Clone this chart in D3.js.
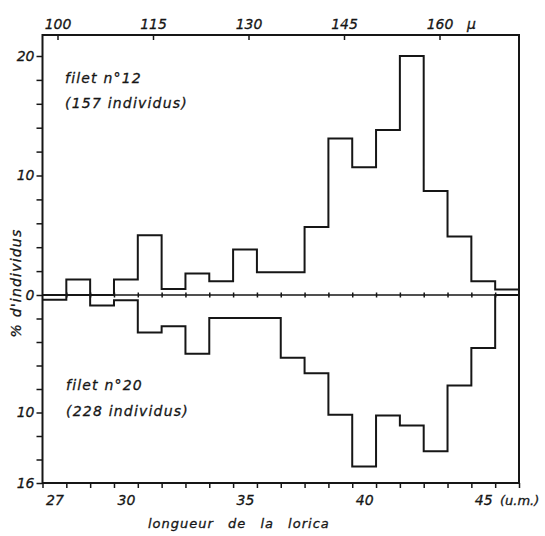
<!DOCTYPE html>
<html>
<head>
<meta charset="utf-8">
<script src="https://cdn.jsdelivr.net/npm/d3@7"></script>
<style>
  body { margin: 0; background: #fff; }
  svg text { font-family: "DejaVu Sans", sans-serif; font-style: italic; fill: #161616; stroke: #161616; stroke-width: 0.3px; }
</style>
</head>
<body>
<div id="chart"></div>
<script>
// length classes (u.m.), one bin per unit
const lengthUM = [27, 28, 29, 30, 31, 32, 33, 34, 35, 36, 37, 38, 39, 40, 41, 42, 43, 44, 45, 46];
// % of individuals, filet n°12 (drawn upward)
const filet12 = [0, 1.3, 0, 1.3, 5.0, 0.5, 1.8, 1.15, 3.8, 1.9, 1.9, 5.7, 13.1, 10.7, 13.8, 20.0, 8.7, 4.9, 1.15, 0.45];
// % of individuals, filet n°20 (drawn downward)
const filet20 = [0.4, 0, 0.9, 0.45, 3.2, 2.65, 5.0, 1.95, 1.95, 1.95, 5.35, 6.65, 10.2, 14.6, 10.25, 11.1, 13.3, 7.7, 4.5, 0];

const bottomLabels = [27, 30, 35, 40, 45];
const topLabels = [100, 115, 130, 145, 160];
const upperLabels = [0, 10, 20];
const lowerLabels = [10, 16];

const width = 545;
const height = 536;
const frameTop = 35;
const frameBottom = 483;
const ink = "#161616";

const svg = d3.select("#chart")
  .append("svg")
  .attr("width", width)
  .attr("height", height);

const x = d3.scaleLinear()
  .domain([lengthUM[0] - 0.5, lengthUM[lengthUM.length - 1] + 0.5])
  .range([42.5, 519]);

// top scale in microns
const mu = d3.scaleLinear().domain([100, 160]).range([57.5, 439.5]);

const yUp = d3.scaleLinear().domain([0, 20]).range([295, 56]);
const yDown = d3.scaleLinear().domain([0, 16]).range([295, frameBottom]);

const edges = lengthUM.map(d => d - 0.5).concat([lengthUM[lengthUM.length - 1] + 0.5]);

function styleAxis(g, size) {
  g.select(".domain").remove();
  g.selectAll(".tick line").attr("stroke", ink).attr("stroke-width", 1.5);
  g.selectAll(".tick text")
    .attr("fill", ink)
    .style("font-size", size + "px")
    .style("font-family", "DejaVu Sans")
    .style("font-style", "italic");
}

// frame
svg.append("rect")
  .attr("x", x.range()[0])
  .attr("y", frameTop)
  .attr("width", x.range()[1] - x.range()[0])
  .attr("height", frameBottom - frameTop)
  .attr("fill", "none")
  .attr("stroke", ink)
  .attr("stroke-width", 2);

// left axis, upper part
svg.append("g")
  .attr("transform", `translate(${x.range()[0]},0)`)
  .call(d3.axisLeft(yUp)
    .tickValues(d3.range(0, 21, 2))
    .tickSize(6)
    .tickPadding(2)
    .tickFormat(d => upperLabels.includes(d) ? d : ""))
  .call(g => styleAxis(g, 14));

// left axis, lower part
svg.append("g")
  .attr("transform", `translate(${x.range()[0]},0)`)
  .call(d3.axisLeft(yDown)
    .tickValues(d3.range(2, 17, 2))
    .tickSize(6)
    .tickPadding(2)
    .tickFormat(d => lowerLabels.includes(d) ? d : ""))
  .call(g => styleAxis(g, 14));

// bottom ticks at bin edges
svg.append("g")
  .attr("transform", `translate(0,${frameBottom})`)
  .call(d3.axisBottom(x).tickValues(edges).tickSize(5).tickFormat(""))
  .call(g => styleAxis(g, 14));

// bottom labels at bin centres
svg.append("g")
  .attr("transform", `translate(0,${frameBottom})`)
  .call(d3.axisBottom(x).tickValues(bottomLabels).tickSize(0).tickPadding(12))
  .call(g => styleAxis(g, 14));

svg.append("text")
  .attr("x", 500)
  .attr("y", 505)
  .style("font-size", "13px")
  .text("(u.m.)");

// top axis in microns
svg.append("g")
  .attr("transform", `translate(0,${frameTop})`)
  .call(d3.axisTop(mu).tickValues(topLabels).tickSize(-5).tickPadding(6))
  .call(g => styleAxis(g, 14));

svg.append("text")
  .attr("x", 467)
  .attr("y", 29)
  .style("font-size", "14px")
  .text("μ");

// zero line with small ticks at bin edges
svg.append("line")
  .attr("x1", x.range()[0])
  .attr("x2", x.range()[1])
  .attr("y1", yUp(0))
  .attr("y2", yUp(0))
  .attr("stroke", ink)
  .attr("stroke-width", 1.4);

svg.append("g")
  .attr("transform", `translate(0,${yUp(0) - 2.5})`)
  .call(d3.axisBottom(x).tickValues(edges.slice(1, -1)).tickSize(5).tickFormat(""))
  .call(g => styleAxis(g, 14));

// histograms as step lines
const upPoints = lengthUM.map((d, i) => [d - 0.5, filet12[i]]);
upPoints.push([lengthUM[lengthUM.length - 1] + 0.5, filet12[filet12.length - 1]]);
const downPoints = lengthUM.map((d, i) => [d - 0.5, filet20[i]]);
downPoints.push([lengthUM[lengthUM.length - 1] + 0.5, filet20[filet20.length - 1]]);

svg.append("path")
  .attr("d", d3.line().x(d => x(d[0])).y(d => yUp(d[1])).curve(d3.curveStepAfter)(upPoints))
  .attr("fill", "none")
  .attr("stroke", ink)
  .attr("stroke-width", 2);

svg.append("path")
  .attr("d", d3.line().x(d => x(d[0])).y(d => yDown(d[1])).curve(d3.curveStepAfter)(downPoints))
  .attr("fill", "none")
  .attr("stroke", ink)
  .attr("stroke-width", 2);

// annotations
const notes = [
  ["filet n°12", 65, 83],
  ["(157 individus)", 65, 108],
  ["filet n°20", 66, 390],
  ["(228 individus)", 66, 416]
];
svg.selectAll(".note")
  .data(notes)
  .enter()
  .append("text")
  .attr("class", "note")
  .attr("x", d => d[1])
  .attr("y", d => d[2])
  .style("font-size", "14px")
  .style("letter-spacing", "1.2px")
  .text(d => d[0]);

svg.append("text")
  .attr("x", 148)
  .attr("y", 528)
  .style("font-size", "13px")
  .style("letter-spacing", "1px")
  .style("word-spacing", "9px")
  .text("longueur de la lorica");

svg.append("text")
  .attr("transform", "translate(21,283) rotate(-90)")
  .attr("text-anchor", "middle")
  .style("font-size", "14px")
  .style("letter-spacing", "1.2px")
  .text("% d'individus");
</script>
</body>
</html>
